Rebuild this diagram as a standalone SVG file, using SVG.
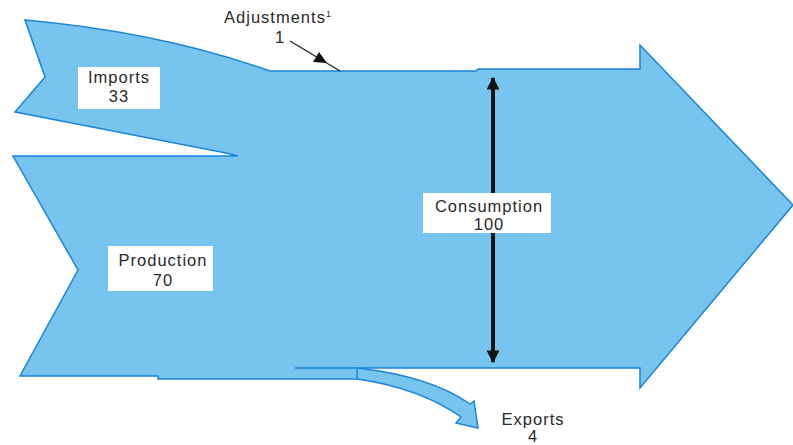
<svg xmlns="http://www.w3.org/2000/svg" width="793" height="445" viewBox="0 0 793 445">
<style>
.flow{fill:#77c4ef;stroke:#1a84da;stroke-width:1.5;stroke-linejoin:miter}
.box{fill:#fff}
.t{font-family:"Liberation Sans",Arial,sans-serif;font-size:16.5px;letter-spacing:1px;fill:#2a2a2a;text-anchor:middle}
</style>
<defs>
<marker id="ah" viewBox="0 0 10 10" refX="9" refY="5" markerWidth="3.5" markerHeight="3.2" orient="auto-start-reverse" markerUnits="strokeWidth">
<path d="M0,0 L10,5 L0,10 Z" fill="#111"/>
</marker>
</defs>
<rect width="793" height="445" fill="#fff"/>
<g id="flow-main">
<path class="flow" d="M25,20 Q160,32 270,71 L476,71 L478,69 L640,69 L640,45 L793,205 L640,388 L640,368 L360,368 L357,379 L158,379 L158,376 L20,376 L78,270 L13,156 L238,156 L226,153 L15,112 L45,77 Z"/>
</g>
<g id="flow-exports">
<path class="flow" d="M357,368 Q430,376 470,404 L474,401 L478,428 L456,423 L461,417 Q420,388 357,379 Z"/>
<line x1="295" y1="368" x2="362" y2="368" stroke="#1a84da" stroke-width="1.5"/>
</g>
<g id="connectors">
<line x1="493" y1="78" x2="493" y2="193" stroke="#111" stroke-width="4" marker-start="url(#ah)"/>
<line x1="493" y1="233" x2="493" y2="362" stroke="#111" stroke-width="4" marker-end="url(#ah)"/>
<line x1="290" y1="41" x2="340" y2="71" stroke="#222" stroke-width="1.2"/>
<path d="M327,63 L313,62 L319,52 Z" fill="#111"/>
</g>
<g id="node-imports">
<rect class="box" x="78" y="67" width="82" height="42"/>
<text class="t" x="119" y="83">Imports</text>
<text class="t" x="119" y="102">33</text>
</g>
<g id="node-production">
<rect class="box" x="108" y="246" width="105" height="45"/>
<text class="t" x="163" y="266">Production</text>
<text class="t" x="163" y="286">70</text>
</g>
<g id="node-consumption">
<rect class="box" x="423" y="193" width="128" height="40"/>
<text class="t" x="489" y="212">Consumption</text>
<text class="t" x="489" y="230">100</text>
</g>
<g id="node-adjustments">
<text class="t" x="278" y="23">Adjustments<tspan font-size="9" dy="-6">1</tspan></text>
<text class="t" x="280" y="43">1</text>
</g>
<g id="node-exports">
<text class="t" x="533" y="425">Exports</text>
<text class="t" x="533" y="442">4</text>
</g>
</svg>
